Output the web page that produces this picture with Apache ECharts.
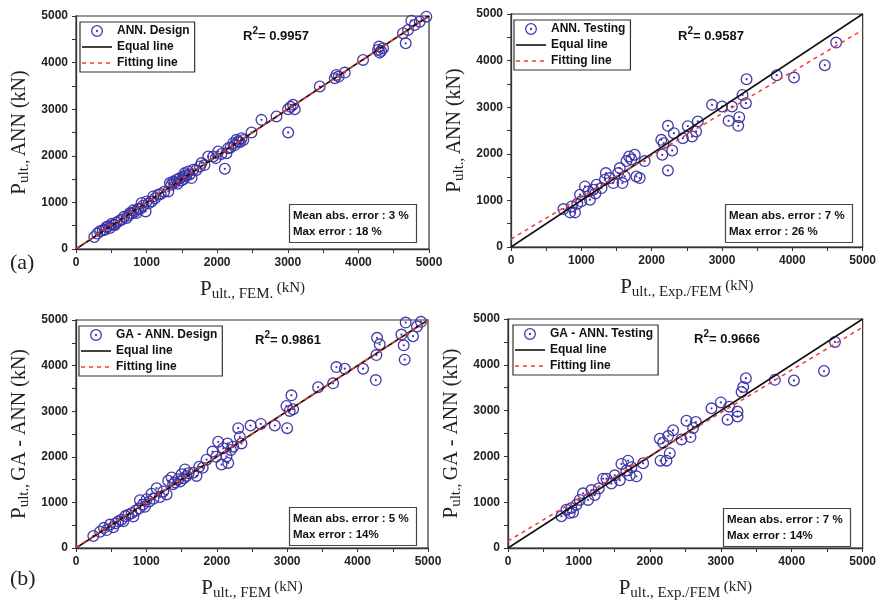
<!DOCTYPE html>
<html>
<head>
<meta charset="utf-8">
<script src="https://cdn.jsdelivr.net/npm/echarts@6/dist/echarts.min.js"></script>
<style>
  html, body { margin: 0; padding: 0; background: #fff; }
  #chart { width: 879px; height: 602px; }
</style>
</head>
<body>
<div id="chart"></div>
<script>
// Predicted vs. reference ultimate load (kN), four panels
const annDesign = [[259,257],[300,330],[340,379],[380,400],[410,414],[430,470],[458,486],[480,450],[505,543],[530,520],[552,514],[575,571],[610,600],[646,629],[680,690],[717,664],[740,720],[764,771],[790,760],[811,829],[835,800],[858,771],[880,860],[906,857],[929,986],[950,930],[986,807],[1000,1021],[1030,980],[1071,1021],[1094,1129],[1120,1090],[1165,1164],[1200,1180],[1250,1230],[1307,1236],[1330,1414],[1350,1380],[1377,1450],[1400,1420],[1425,1486],[1440,1400],[1472,1521],[1490,1470],[1519,1557],[1530,1500],[1542,1629],[1560,1580],[1590,1664],[1610,1600],[1637,1521],[1660,1700],[1700,1690],[1755,1771],[1778,1843],[1820,1800],[1873,1986],[1943,1986],[1980,1950],[2014,2093],[2060,2040],[2108,1721],[2132,2057],[2156,2164],[2190,2180],[2226,2271],[2250,2230],[2273,2343],[2297,2307],[2320,2290],[2344,2379],[2370,2340],[2486,2500],[2627,2771],[2840,2843],[3005,2500],[3005,3000],[3040,3050],[3075,3093],[3099,3000],[3453,3486],[3665,3664],[3689,3736],[3720,3700],[3807,3786],[4066,4057],[4278,4271],[4292,4343],[4302,4214],[4349,4307],[4320,4250],[4632,4629],[4670,4414],[4703,4700],[4750,4900],[4797,4807],[4868,4879],[4962,4986]];

const annTesting = [[745,814],[840,743],[863,871],[910,743],[943,929],[981,1121],[1000,980],[1052,1300],[1099,1193],[1123,1014],[1170,1229],[1200,1150],[1217,1336],[1288,1264],[1335,1443],[1349,1586],[1406,1479],[1453,1371],[1524,1586],[1547,1693],[1585,1371],[1618,1514],[1642,1843],[1679,1943],[1712,1879],[1759,1979],[1783,1514],[1830,1479],[1901,1843],[2137,2300],[2151,1979],[2170,2229],[2231,2600],[2231,1643],[2292,2071],[2316,2443],[2443,2336],[2514,2593],[2575,2371],[2632,2479],[2656,2693],[2858,3050],[3000,3014],[3142,3014],[3094,2707],[3245,2786],[3231,2600],[3292,3264],[3340,3086],[3349,3600],[3778,3686],[4024,3636],[4462,3900],[4623,4386]];

const gaDesign = [[246,264],[341,356],[397,442],[435,392],[483,513],[530,456],[560,540],[601,584],[648,620],[672,584],[700,700],[743,727],[790,762],[814,691],[850,820],[899,869],[908,1047],[950,950],[979,905],[1003,1068],[1040,1020],[1074,1190],[1100,1080],[1145,1311],[1192,1118],[1240,1240],[1287,1175],[1310,1474],[1358,1545],[1380,1400],[1405,1439],[1452,1510],[1480,1460],[1500,1617],[1530,1530],[1547,1724],[1570,1581],[1600,1640],[1665,1652],[1712,1581],[1750,1781],[1800,1760],[1854,1937],[1940,2115],[1990,2000],[2020,2329],[2067,1830],[2091,2187],[2138,2009],[2152,2293],[2162,1866],[2200,2150],[2233,2222],[2304,2628],[2327,2436],[2351,2293],[2479,2685],[2625,2721],[2824,2685],[2999,2628],[2989,3113],[3036,3006],[3060,3348],[3084,3042],[3439,3526],[3652,3611],[3699,3967],[3818,3932],[4078,3932],[4258,3682],[4267,4231],[4276,4609],[4314,4466],[4622,4680],[4655,4444],[4669,4131],[4683,4943],[4787,4644],[4844,4858],[4900,4960]];

const gaTesting = [[753,693],[823,836],[870,764],[894,871],[917,779],[964,943],[1011,1050],[1058,1193],[1129,1050],[1176,1264],[1223,1157],[1280,1300],[1341,1514],[1388,1514],[1458,1407],[1505,1586],[1576,1479],[1599,1836],[1670,1693],[1693,1907],[1717,1586],[1740,1764],[1811,1564],[1905,1850],[2140,2386],[2150,1907],[2187,2300],[2234,1907],[2258,2443],[2281,2071],[2328,2571],[2446,2371],[2516,2779],[2573,2421],[2610,2621],[2648,2750],[2869,3050],[3001,3179],[3119,3086],[3095,2800],[3236,2979],[3236,2871],[3293,3407],[3316,3514],[3354,3707],[3763,3671],[4031,3657],[4455,3864],[4610,4500]];

// reference diagonal and fitted regression lines
const equalLine = [[0, 0], [5000, 5000]];
const fitLines = [
  [[0, 8], [5000, 4993]],
  [[0, 171], [5000, 4657]],
  [[0, 12], [5000, 4995]],
  [[0, 150], [5000, 4821]]
];

const seriesNames = ['ANN. Design', 'ANN. Testing', 'GA - ANN. Design', 'GA - ANN. Testing'];
const r2Values = ['0.9957', '0.9587', '0.9861', '0.9666'];
const meanErrors = ['3 %', '7 %', '5 %', '7 %'];
const maxErrors = ['18 %', '26 %', '14%', '14%'];
const xNames = [['ult., FEM.', '(kN)'], ['ult., Exp./FEM', '(kN)'], ['ult., FEM', '(kN)'], ['ult., Exp./FEM', '(kN)']];
const yNames = ['ANN (kN)', 'ANN (kN)', 'GA - ANN (kN)', 'GA - ANN (kN)'];
const panelTags = ['(a)', '(b)'];

const pointSets = [annDesign, annTesting, gaDesign, gaTesting];

const SANS = '"Liberation Sans", Arial, sans-serif';
const SERIF = '"Liberation Serif", "Times New Roman", serif';
const MARK = '#3b32a2';
const EQUAL_COLOR = '#111';
const FIT_COLOR = '#f43a3a';
// hollow ring with a centre dot
const ringDot = 'path://M10,0A10,10,0,1,1,-10,0A10,10,0,1,1,10,0ZM7.8,0A7.8,7.8,0,1,0,-7.8,0A7.8,7.8,0,1,0,7.8,0ZM1.9,0A1.9,1.9,0,1,1,-1.9,0A1.9,1.9,0,1,1,1.9,0Z';
// legend icons for the two lines (solid bar, dashed bar)
const solidIcon = 'path://M0,0H30V1.6H0Z';
const dashIcon = 'path://M0,0H4V1.6H0ZM8,0H12V1.6H8ZM16,0H20V1.6H16ZM24,0H28V1.6H24ZM29.9,0H30V1.6H29.9Z';

// layout of each panel
const grids = [
  { left: 76, top: 16, width: 353, height: 233 },
  { left: 511, top: 14, width: 353, height: 233 },
  { left: 76, top: 320, width: 352, height: 234 },
  { left: 508, top: 319, width: 355, height: 233 }
];
const legendPos = [[80, 22], [514, 20], [79, 326], [513, 325]];
const r2Pos = [[238, 21], [673, 21], [250, 325], [689, 324]];
const errPos = [[289, 204], [725, 204], [289, 507], [723, 508]];

const nameRich = {
  P: { fontFamily: SERIF, fontSize: 21, color: '#222' },
  sub: { fontFamily: SERIF, fontSize: 15, color: '#222', padding: [10, 0, 0, 0] },
  sup: { fontFamily: SERIF, fontSize: 15, color: '#222', padding: [0, 0, 3, 0] },
  big: { fontFamily: SERIF, fontSize: 20, color: '#222' }
};

const option = {
  backgroundColor: '#fff',
  animation: false,
  grid: [], xAxis: [], yAxis: [], series: [], legend: [], title: [],
  graphic: []
};

grids.forEach((g, i) => {
  option.grid.push(Object.assign({ show: true, borderColor: '#333', borderWidth: 1.2, backgroundColor: 'transparent' }, g));
  const axisCommon = {
    type: 'value', gridIndex: i, min: 0, max: 5000, interval: 1000,
    axisLine: { show: true, lineStyle: { color: '#333', width: 1.3 } },
    axisTick: { show: true, length: 4, lineStyle: { color: '#333', width: 1 } },
    minorTick: { show: true, splitNumber: 2, length: 4, lineStyle: { color: '#333', width: 1 } },
    splitLine: { show: false },
    axisLabel: {
      fontFamily: SANS, fontWeight: 'bold', fontSize: 12, color: '#222', margin: 8,
      formatter: v => String(v)
    },
    nameLocation: 'middle'
  };
  option.xAxis.push(Object.assign({}, axisCommon, {
    name: '{P|P}{sub|' + xNames[i][0] + '} {sup|' + xNames[i][1] + '}',
    nameGap: 28,
    nameTextStyle: { rich: nameRich }
  }));
  option.yAxis.push(Object.assign({}, axisCommon, {
    name: '{P|P}{sub|ult.,} {big|' + yNames[i] + '}',
    nameGap: 44,
    nameTextStyle: { rich: nameRich }
  }));

  option.series.push({
    name: seriesNames[i], type: 'scatter', xAxisIndex: i, yAxisIndex: i,
    data: pointSets[i], symbol: ringDot, symbolSize: 12, symbolKeepAspect: true,
    itemStyle: { color: MARK, opacity: 0.95 }, z: 2
  });
  option.series.push({
    name: 'Equal line', type: 'line', xAxisIndex: i, yAxisIndex: i,
    data: equalLine, symbol: 'none', silent: true,
    itemStyle: { color: EQUAL_COLOR },
    lineStyle: { color: EQUAL_COLOR, width: 1.5 }, z: 3
  });
  option.series.push({
    name: 'Fitting line', type: 'line', xAxisIndex: i, yAxisIndex: i,
    data: fitLines[i], symbol: 'none', silent: true,
    itemStyle: { color: FIT_COLOR },
    lineStyle: { color: FIT_COLOR, width: 1.5, type: [4, 4] }, z: 4
  });

  option.legend.push({
    left: legendPos[i][0], top: legendPos[i][1], orient: 'vertical',
    data: [
      { name: seriesNames[i] },
      { name: 'Equal line', icon: solidIcon, itemStyle: { color: EQUAL_COLOR } },
      { name: 'Fitting line', icon: dashIcon, itemStyle: { color: FIT_COLOR } }
    ],
    itemWidth: 30, itemHeight: 12, itemGap: 4,
    padding: [3, 5, 3, 2],
    borderColor: '#333', borderWidth: 1.2, backgroundColor: '#fff',
    symbolKeepAspect: true,
    textStyle: { fontFamily: SANS, fontWeight: 'bold', fontSize: 12, color: '#111' }
  });

  option.title.push({
    left: r2Pos[i][0], top: r2Pos[i][1],
    text: '{r|R}{s|2}{r|= ' + r2Values[i] + '}',
    textStyle: {
      rich: {
        r: { fontFamily: SANS, fontWeight: 'bold', fontSize: 13, color: '#111', padding: [4, 0, 0, 0] },
        s: { fontFamily: SANS, fontWeight: 'bold', fontSize: 10, color: '#111', padding: [0, 0, 6, 0] }
      }
    }
  });
  option.title.push({
    left: errPos[i][0], top: errPos[i][1],
    text: 'Mean abs. error : ' + meanErrors[i] + '\nMax error : ' + maxErrors[i],
    padding: [4, 8, 3, 4],
    borderColor: '#444', borderWidth: 1.2, backgroundColor: '#fff',
    textStyle: { fontFamily: SANS, fontWeight: 'bold', fontSize: 11.5, color: '#111', lineHeight: 16 }
  });
});

// panel tags
option.graphic.push({ type: 'text', left: 10, top: 252, style: { text: panelTags[0], font: '22px ' + SERIF, fill: '#222' } });
option.graphic.push({ type: 'text', left: 10, top: 568, style: { text: panelTags[1], font: '22px ' + SERIF, fill: '#222' } });

const chart = echarts.init(document.getElementById('chart'), null, { renderer: 'canvas' });
chart.setOption(option);
</script>
</body>
</html>
